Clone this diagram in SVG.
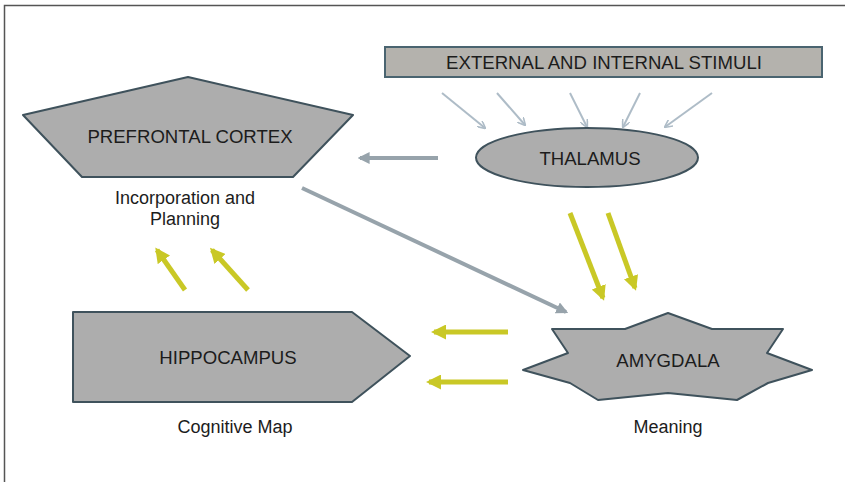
<svg xmlns="http://www.w3.org/2000/svg" width="850" height="482" viewBox="0 0 850 482">
<defs>
<style>
.node{fill:#adadad;stroke:#3f525c;stroke-width:2;stroke-linejoin:round}
.lbl{font-family:"Liberation Sans",Arial,sans-serif;fill:#1c1c1c;text-anchor:middle}
.big{font-size:18.6px}
.small{font-size:18px}
.thin{stroke:#aebcc7;stroke-width:2;fill:none}
.gray{stroke:#97a3ab;stroke-width:4;fill:none}
.yel{stroke:#c9c826;stroke-width:5;fill:none}
</style>
<marker id="mThin" viewBox="0 0 10 10" refX="9" refY="5" markerWidth="4" markerHeight="4" orient="auto" markerUnits="strokeWidth">
<path d="M0,0 L10,5 L0,10" fill="none" stroke="#aebcc7" stroke-width="2"/>
</marker>
<marker id="mGray" viewBox="0 0 10 10" refX="8" refY="5" markerWidth="3" markerHeight="3" orient="auto" markerUnits="strokeWidth">
<path d="M0,0 L10,5 L0,10 z" fill="#97a3ab"/>
</marker>
<marker id="mYel" viewBox="0 0 10 10" refX="8" refY="5" markerWidth="3" markerHeight="3" orient="auto" markerUnits="strokeWidth">
<path d="M0,0 L10,5 L0,10 z" fill="#c9c826"/>
</marker>
</defs>
<rect width="850" height="482" fill="#fff"/>
<path d="M4.5,482 V5.5 H845" fill="none" stroke="#555" stroke-width="1.5"/>

<g id="connectors">
<line class="thin" x1="442" y1="93" x2="485" y2="128" marker-end="url(#mThin)"/>
<line class="thin" x1="497" y1="93" x2="525" y2="125" marker-end="url(#mThin)"/>
<line class="thin" x1="570" y1="93" x2="587" y2="127" marker-end="url(#mThin)"/>
<line class="thin" x1="640" y1="93" x2="623" y2="127" marker-end="url(#mThin)"/>
<line class="thin" x1="712" y1="93" x2="665" y2="127" marker-end="url(#mThin)"/>
<line class="gray" x1="438" y1="158" x2="360" y2="158" marker-end="url(#mGray)"/>
<line class="gray" x1="302" y1="188" x2="566" y2="312" marker-end="url(#mGray)"/>
<line class="yel" x1="570" y1="213" x2="603" y2="298" marker-end="url(#mYel)"/>
<line class="yel" x1="608" y1="213" x2="635" y2="288" marker-end="url(#mYel)"/>
<line class="yel" x1="185" y1="290" x2="157" y2="250" marker-end="url(#mYel)"/>
<line class="yel" x1="248" y1="290" x2="212" y2="250" marker-end="url(#mYel)"/>
<line class="yel" x1="508" y1="332" x2="434" y2="332" marker-end="url(#mYel)"/>
<line class="yel" x1="508" y1="382" x2="429" y2="382" marker-end="url(#mYel)"/>
</g>

<g id="stimuli">
<rect x="385" y="47" width="437" height="30" fill="#b4b2ad" stroke="#4a6470" stroke-width="2"/>
<text class="lbl big" x="604" y="68.5">EXTERNAL AND INTERNAL STIMULI</text>
</g>

<g id="thalamus">
<ellipse class="node" cx="587" cy="157.5" rx="111" ry="29.5"/>
<text class="lbl big" x="590" y="164.5">THALAMUS</text>
</g>

<g id="prefrontal">
<polygon class="node" points="188,77 353,115 293,177 82,177 23,115"/>
<text class="lbl big" x="190" y="142.5">PREFRONTAL CORTEX</text>
<text class="lbl small" x="185" y="204">Incorporation and</text>
<text class="lbl small" x="185" y="225">Planning</text>
</g>

<g id="hippocampus">
<polygon class="node" points="73,312 352,312 410,356 352,402 73,402"/>
<text class="lbl big" x="228" y="363.5">HIPPOCAMPUS</text>
<text class="lbl small" x="235" y="433">Cognitive Map</text>
</g>

<g id="amygdala">
<polygon class="node" points="668,313 712,329 783,329 767,353 812,370 768,383 737,400 668,393 598,400 570,383 523,370 568,353 552,329 625,329"/>
<text class="lbl big" x="668" y="366.5">AMYGDALA</text>
<text class="lbl small" x="668" y="433">Meaning</text>
</g>
</svg>
